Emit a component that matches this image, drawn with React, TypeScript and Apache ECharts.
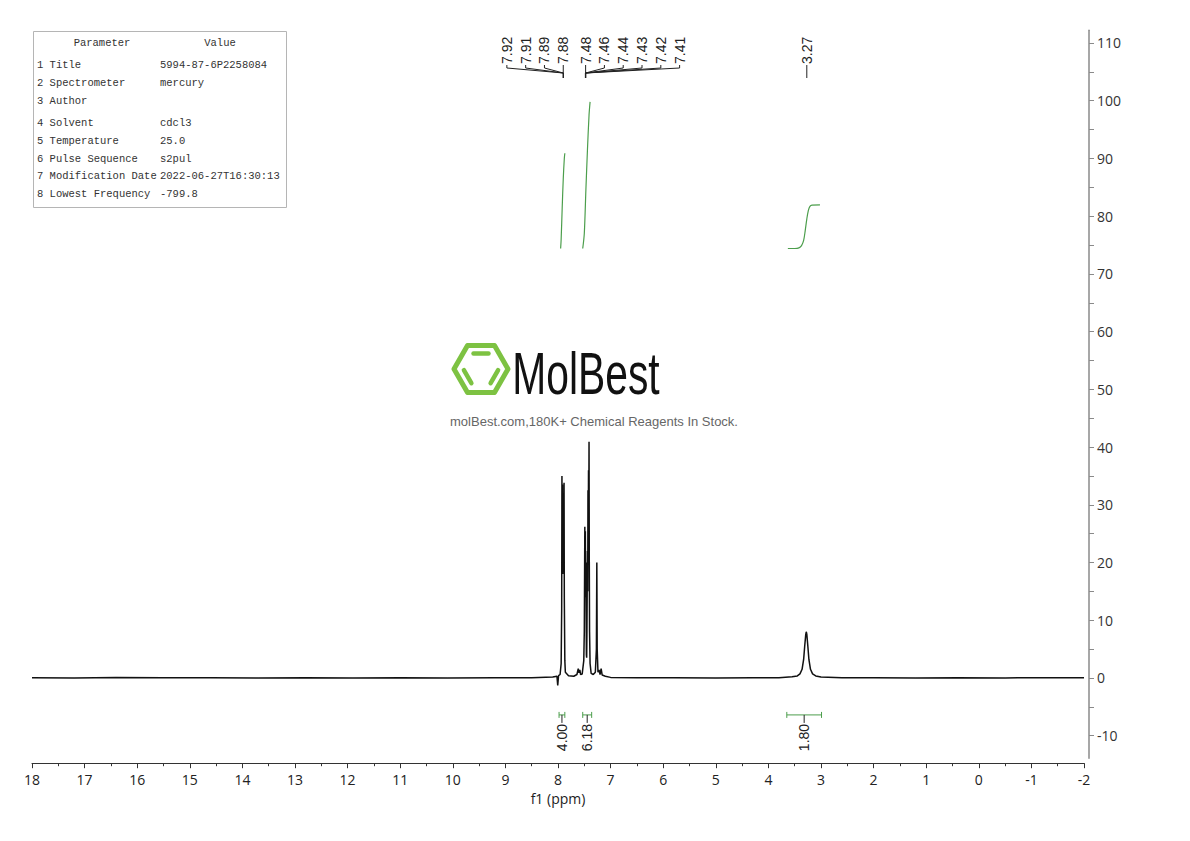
import React, { useEffect, useRef } from 'react';
import * as echarts from 'echarts';

// ---------- DATA ----------
const ppmMin = -2;
const ppmMax = 18;
const intensityMin = -13.9;
const intensityMax = 112.2;

const yTickLabels = [-10, 0, 10, 20, 30, 40, 50, 60, 70, 80, 90, 100, 110];
const yTickMarks = [-10, -5, 0, 5, 10, 15, 20, 25, 30, 35, 40, 45, 50, 55, 60, 65, 70, 75, 80, 85, 90, 95, 100, 105, 110];

// [ppm, intensity]
const spectrum: number[][] = [
  [18.0, 0.05], [17.2, 0.0], [16.4, 0.06], [15.5, 0.02], [14.6, 0.05], [13.7, 0.0],
  [12.8, 0.04], [11.9, 0.01], [11.0, 0.05], [10.1, 0.0], [9.2, 0.04], [8.5, 0.03],
  [8.1, 0.15], [8.02, 0.3], [8.005, -1.3], [7.99, 0.4], [7.96, 0.6], [7.94, 2.5],
  [7.93, 12], [7.925, 35.0], [7.92, 22], [7.915, 33.5], [7.91, 18], [7.905, 30],
  [7.9, 20], [7.895, 32], [7.89, 20], [7.885, 33.8], [7.88, 14], [7.87, 3],
  [7.86, 1.0], [7.8, 0.4], [7.7, 0.3], [7.64, 0.6], [7.615, 1.6], [7.6, 0.9],
  [7.585, 1.4], [7.57, 0.6], [7.54, 0.7], [7.51, 3], [7.5, 8], [7.49, 26.2],
  [7.485, 18], [7.48, 25.4], [7.475, 14], [7.47, 20], [7.46, 4], [7.455, 3.5],
  [7.45, 8], [7.44, 22], [7.435, 15], [7.43, 32.5], [7.425, 20], [7.42, 36],
  [7.415, 25], [7.41, 40.9], [7.405, 20], [7.4, 8], [7.39, 2.5], [7.37, 0.8],
  [7.33, 0.6], [7.29, 1.0], [7.27, 5], [7.262, 20.0], [7.255, 5], [7.24, 1.0],
  [7.22, 1.4], [7.2, 0.6], [7.18, 1.6], [7.16, 0.5], [7.1, 0.3], [7.0, 0.1],
  [6.5, 0.02], [5.8, 0.05], [5.0, 0.0], [4.3, 0.04], [3.8, 0.05], [3.55, 0.2],
  [3.45, 0.35], [3.4, 0.7], [3.36, 1.5], [3.33, 3.2], [3.31, 5.5], [3.29, 7.5],
  [3.28, 8.0], [3.27, 7.6], [3.25, 5.5], [3.23, 3.2], [3.2, 1.5], [3.16, 0.7],
  [3.1, 0.35], [3.0, 0.15], [2.6, 0.04], [2.0, 0.05], [1.2, 0.0], [0.4, 0.04],
  [-0.5, 0.01], [-1.3, 0.05], [-2.0, 0.03],
];

const integralCurve1: number[][] = [
  [7.95, 74.4], [7.94, 76.0], [7.92, 81.5], [7.9, 86.5], [7.88, 90.0], [7.87, 90.9],
];
const integralCurve2: number[][] = [
  [7.53, 74.4], [7.5, 77.0], [7.47, 84.5], [7.44, 91.5], [7.41, 97.5], [7.39, 99.8],
];
const integralCurve3: number[][] = [
  [3.63, 74.4], [3.5, 74.4], [3.42, 74.5], [3.37, 74.9], [3.33, 75.8], [3.3, 77.5],
  [3.27, 79.5], [3.24, 81.0], [3.21, 81.7], [3.17, 81.9], [3.02, 81.95],
];

const integralFrom = [7.98, 7.53, 3.65];
const integralTo = [7.87, 7.36, 2.99];
const integralValues = ['4.00', '6.18', '1.80'];
const integralBracketLevel = -6.4;

const peakGroupAnchors = [7.9, 7.475, 3.27];
const peakGroupLabels = [
  ['7.92', '7.91', '7.89', '7.88'],
  ['7.48', '7.46', '7.44', '7.43', '7.42', '7.41'],
  ['3.27'],
];

const parameterRows = [
  ['1 Title', '5994-87-6P2258084'],
  ['2 Spectrometer', 'mercury'],
  ['3 Author', ''],
  ['4 Solvent', 'cdcl3'],
  ['5 Temperature', '25.0'],
  ['6 Pulse Sequence', 's2pul'],
  ['7 Modification Date', '2022-06-27T16:30:13'],
  ['8 Lowest Frequency', '-799.8'],
];

// ---------- STYLE ----------
const GREEN = '#4c9e4c';
const AXIS_FONT = '"Open Sans", "Liberation Sans", sans-serif';
const LABEL_FONT = '"Liberation Sans", Arial, sans-serif';
const TABLE_FONT = '"Liberation Mono", "DejaVu Sans Mono", monospace';
const groupSpread = ['left', 'right', 'none'];

function buildTableGraphics() {
  const els: any[] = [];
  els.push({
    type: 'rect',
    shape: { x: 33.5, y: 31.5, width: 253, height: 176 },
    style: { fill: '#fff', stroke: '#b5b5b5', lineWidth: 1 },
    z: 10,
  });
  const font = '10.5px ' + TABLE_FONT;
  els.push({ type: 'text', x: 102, y: 43, z: 11, style: { text: 'Parameter', font, fill: '#333', align: 'center', verticalAlign: 'middle' } });
  els.push({ type: 'text', x: 220, y: 43, z: 11, style: { text: 'Value', font, fill: '#333', align: 'center', verticalAlign: 'middle' } });
  const rowY = [65, 83, 101, 123, 141, 159, 176, 194];
  parameterRows.forEach((r, i) => {
    els.push({ type: 'text', x: 37, y: rowY[i], z: 11, style: { text: r[0], font, fill: '#333', align: 'left', verticalAlign: 'middle' } });
    els.push({ type: 'text', x: 160, y: rowY[i], z: 11, style: { text: r[1], font, fill: '#333', align: 'left', verticalAlign: 'middle' } });
  });
  return els;
}

function buildLogoGraphics() {
  const cx = 481, cy = 369, R = 27;
  const v = (k: number, s: number) => [cx + s * R * Math.cos((Math.PI / 3) * k), cy - s * R * Math.sin((Math.PI / 3) * k)];
  const pts = [0, 1, 2, 3, 4, 5].map((k) => v(k, 1));
  const els: any[] = [];
  els.push({
    type: 'polygon',
    shape: { points: pts },
    style: { fill: 'none', stroke: '#7dc242', lineWidth: 5, lineJoin: 'round' },
    z: 5,
  });
  const bar = (a: number, b: number) => {
    const p = v(a, 0.66), q = v(b, 0.66);
    const sh = 0.08;
    return {
      type: 'line',
      shape: {
        x1: p[0] + (q[0] - p[0]) * sh, y1: p[1] + (q[1] - p[1]) * sh,
        x2: q[0] + (p[0] - q[0]) * sh, y2: q[1] + (p[1] - q[1]) * sh,
      },
      style: { stroke: '#7dc242', lineWidth: 4.5, lineCap: 'round' },
      z: 5,
    };
  };
  els.push(bar(1, 2), bar(3, 4), bar(5, 6));
  els.push({
    type: 'text', x: 586, y: 374, scaleX: 0.68, z: 5,
    style: { text: 'MolBest', font: '60px "Liberation Sans", Arial, sans-serif', fill: '#111', align: 'center', verticalAlign: 'middle' },
  });
  els.push({
    type: 'text', x: 594, y: 421, z: 5,
    style: { text: 'molBest.com,180K+ Chemical Reagents In Stock.', font: '13px ' + LABEL_FONT, fill: '#666', align: 'center', verticalAlign: 'middle' },
  });
  return els;
}

export default function App() {
  const ref = useRef<HTMLDivElement>(null);

  useEffect(() => {
    if (!ref.current) return;
    const chart = echarts.init(ref.current, null, { renderer: 'svg' });

    const option: any = {
      animation: false,
      backgroundColor: '#fff',
      grid: {
        left: 32,
        right: 106,
        top: 30.3,
        bottom: 82.8,
        containLabel: false,
        outerBoundsMode: 'none',
      },
      xAxis: {
        type: 'value',
        min: ppmMin,
        max: ppmMax,
        interval: 1,
        inverse: true,
        position: 'bottom',
        offset: 5,
        axisLine: { show: true, onZero: false, lineStyle: { color: '#333', width: 1 } },
        axisTick: { show: true, length: 5, lineStyle: { color: '#333' } },
        minorTick: { show: true, splitNumber: 2, length: 3, lineStyle: { color: '#333' } },
        splitLine: { show: false },
        minorSplitLine: { show: false },
        axisLabel: { fontSize: 14, fontFamily: AXIS_FONT, color: '#222', margin: 9 },
        name: 'f1 (ppm)',
        nameLocation: 'middle',
        nameGap: 26,
        nameTextStyle: { fontSize: 14, fontFamily: AXIS_FONT, color: '#222' },
      },
      yAxis: {
        type: 'value',
        min: intensityMin,
        max: intensityMax,
        position: 'right',
        offset: 5,
        axisLine: { show: true, onZero: false, lineStyle: { color: '#8a8a8a', width: 1.5 } },
        axisTick: { show: true, length: 5, customValues: yTickMarks, lineStyle: { color: '#8a8a8a' } },
        axisLabel: { customValues: yTickLabels, fontSize: 14, fontFamily: AXIS_FONT, color: '#333', margin: 8 },
        splitLine: { show: false },
      },
      graphic: [...buildTableGraphics(), ...buildLogoGraphics()],
      series: [
        {
          type: 'line',
          data: spectrum,
          showSymbol: false,
          symbol: 'none',
          lineStyle: { color: '#111', width: 1.5 },
          z: 3,
        },
        ...[integralCurve1, integralCurve2, integralCurve3].map((d) => ({
          type: 'line',
          data: d,
          showSymbol: false,
          symbol: 'none',
          smooth: 0.3,
          lineStyle: { color: GREEN, width: 1.2 },
          z: 2,
        })),
        {
          type: 'custom',
          clip: false,
          z: 4,
          data: integralFrom.map((f, i) => [f, integralTo[i]]),
          renderItem: (params: any, api: any) => {
            const i = params.dataIndex;
            const p1 = api.coord([api.value(0), integralBracketLevel]);
            const p2 = api.coord([api.value(1), integralBracketLevel]);
            const y = p1[1];
            const cx = (p1[0] + p2[0]) / 2;
            return {
              type: 'group',
              children: [
                { type: 'line', shape: { x1: p1[0], y1: y, x2: p2[0], y2: y }, style: { stroke: GREEN, lineWidth: 1 } },
                { type: 'line', shape: { x1: p1[0], y1: y - 3, x2: p1[0], y2: y + 3 }, style: { stroke: GREEN, lineWidth: 1 } },
                { type: 'line', shape: { x1: p2[0], y1: y - 3, x2: p2[0], y2: y + 3 }, style: { stroke: GREEN, lineWidth: 1 } },
                { type: 'line', shape: { x1: cx, y1: y, x2: cx, y2: y + 8 }, style: { stroke: '#222', lineWidth: 1 } },
                {
                  type: 'text', x: cx, y: y + 9, rotation: Math.PI / 2,
                  style: { text: integralValues[i], x: 0, y: 0, font: '14px ' + LABEL_FONT, fill: '#222', align: 'right', verticalAlign: 'middle' },
                },
              ],
            };
          },
        },
        {
          type: 'custom',
          clip: false,
          z: 4,
          data: peakGroupAnchors.map((a, i) => [a, i]),
          renderItem: (params: any, api: any) => {
            const i = params.dataIndex;
            const ax = api.coord([api.value(0), 0])[0];
            const labels = peakGroupLabels[i];
            const n = labels.length;
            const spacing = 18.8;
            const textBottom = 64;
            const children: any[] = [];
            labels.forEach((lab, k) => {
              let lx = ax;
              if (groupSpread[i] === 'left') lx = ax - (n - 1 - k) * spacing;
              else if (groupSpread[i] === 'right') lx = ax + k * spacing;
              children.push({
                type: 'text', x: lx, y: textBottom, rotation: Math.PI / 2,
                style: { text: lab, x: 0, y: 0, font: '14px ' + LABEL_FONT, fill: '#222', align: 'left', verticalAlign: 'middle' },
              });
              if (n > 1) {
                children.push({
                  type: 'polyline',
                  shape: { points: [[lx, textBottom + 1], [lx, textBottom + 4], [ax, textBottom + 9]] },
                  style: { stroke: '#222', lineWidth: 1, fill: 'none' },
                });
              }
            });
            if (n > 1) {
              children.push({ type: 'line', shape: { x1: ax, y1: textBottom + 9, x2: ax, y2: textBottom + 14 }, style: { stroke: '#222', lineWidth: 1.5 } });
            } else {
              children.push({ type: 'line', shape: { x1: ax, y1: textBottom + 1, x2: ax, y2: textBottom + 14 }, style: { stroke: '#222', lineWidth: 1 } });
            }
            return { type: 'group', children };
          },
        },
      ],
    };

    chart.setOption(option);
    return () => chart.dispose();
  }, []);

  return (
    <div
      ref={ref}
      style={{ position: 'absolute', left: 0, top: 0, width: 1190, height: 841, background: '#fff' }}
    />
  );
}
